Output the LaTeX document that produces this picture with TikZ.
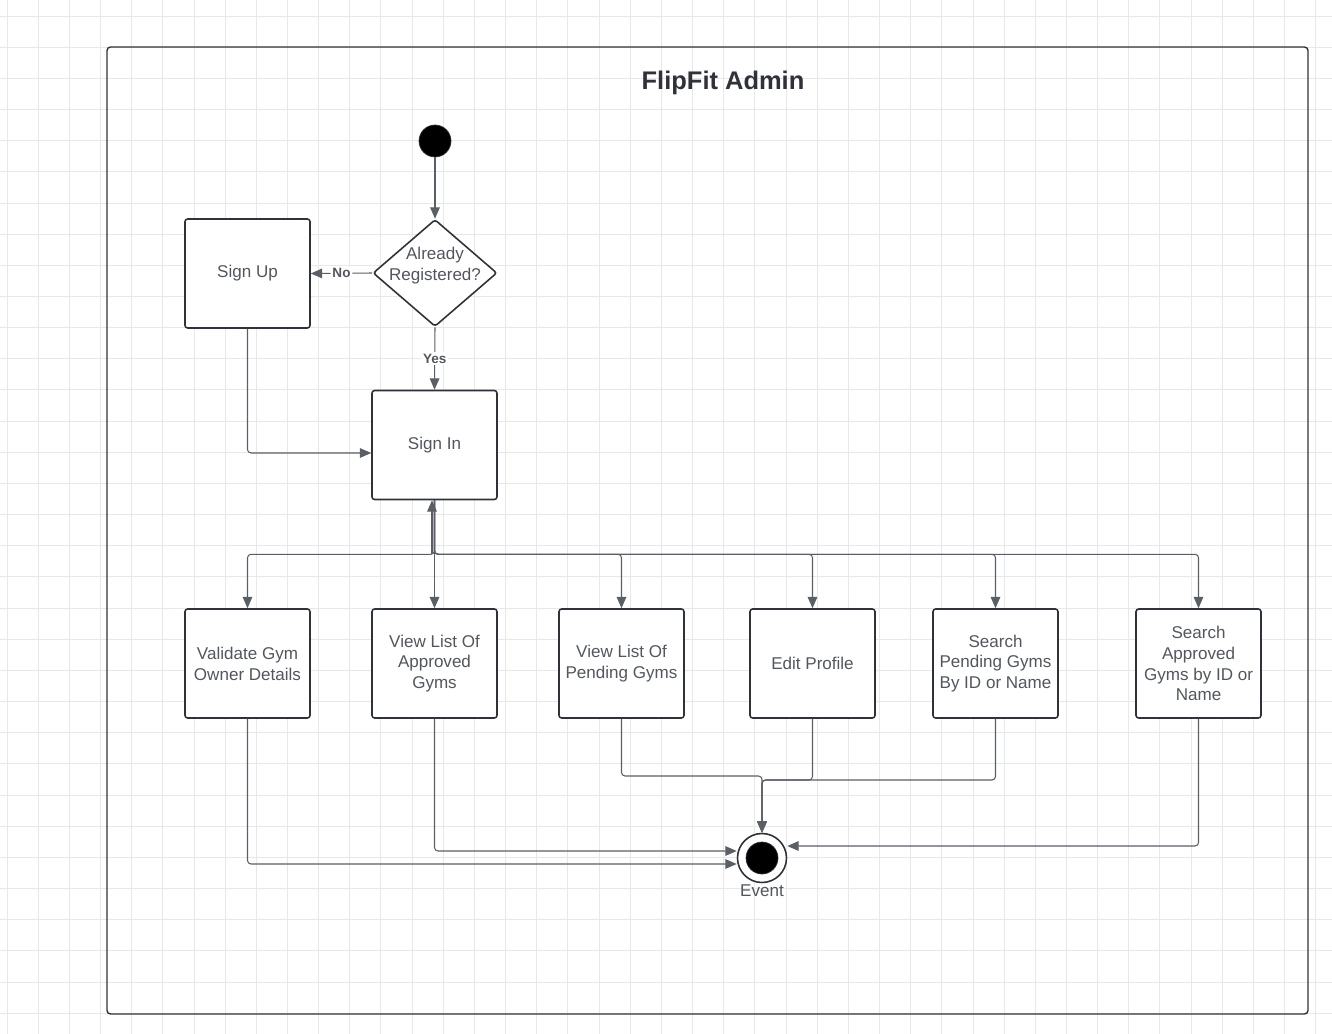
\documentclass[tikz,border=0pt]{standalone}
\usepackage{fontspec}
\setmainfont{Liberation Sans}
\usetikzlibrary{arrows.meta}
\usetikzlibrary{shapes.geometric}
\definecolor{ink}{HTML}{2F3238}
\definecolor{wire}{HTML}{5A5E65}
\definecolor{txt}{HTML}{52575E}
\definecolor{gridc}{HTML}{E8E8E8}

\begin{document}
\begin{tikzpicture}[x=0.02cm, y=-0.02cm, >={Triangle[length=6.5pt,width=5.5pt]},
    box/.style = {draw=ink, fill=white, line width=0.9pt, rounded corners=1.5pt, minimum width=2.5cm, minimum height=2.18cm, align=center, text=txt, font=\fontsize{9.7}{11.9}\selectfont, inner sep=0pt},
    decision/.style = {draw=ink, fill=white, diamond, line width=0.9pt, minimum width=2.48cm, minimum height=2.14cm, inner sep=0pt, rounded corners=1.5pt},
    dot/.style = {circle, fill=black, draw=ink, inner sep=0pt, minimum size=0.64cm},
    flow/.style = {->, draw=wire, line width=0.6pt, rounded corners=2pt},
    lbl/.style = {fill=white, inner sep=1pt, text=txt, font=\fontsize{7.7}{9}\selectfont\bfseries}]
    \useasboundingbox (0,0) rectangle (1332,1034);
    % Grid
    \foreach \k in {0,...,42}
        \draw[gridc, line width=0.5pt] (7+31.16*\k,0) -- (7+31.16*\k,1034);
    \foreach \k in {0,...,32}
        \draw[gridc, line width=0.5pt] (0,16+31.16*\k) -- (1332,16+31.16*\k);
    \draw[ink, line width=0.8pt, rounded corners=2pt] (107,47) rectangle (1308,1014);

    % Nodes
    \node[text=ink, font=\fontsize{14.5}{16}\selectfont\bfseries] (title) at (723,83) {FlipFit Admin};

    \node[dot] (start) at (435,141) {};
    \node[decision] (reg) at (435,273) {};
    \node[align=center, text=txt, font=\fontsize{9.7}{11.9}\selectfont] (regtxt) at (435,266) {Already\\Registered?};

    \node[box] (su) at (247.5,273.5) {Sign Up};
    \node[box] (si) at (434.5,445) {Sign In};

    \node[box] (vg) at (247.5,663.5) {Validate Gym\\Owner Details};
    \node[box] (va) at (434.5,663.5) {View List Of\\Approved\\Gyms};
    \node[box] (vp) at (621.5,663.5) {View List Of\\Pending Gyms};
    \node[box] (ep) at (812.5,663.5) {Edit Profile};
    \node[box] (sp) at (995.5,663.5) {Search\\Pending Gyms\\By ID or Name};
    \node[box] (sa) at (1198.5,663.5) {Search\\Approved\\Gyms by ID or\\Name};

    \node[circle, draw=ink, fill=white, line width=0.9pt, minimum size=0.98cm, inner sep=0pt] (fin) at (762,858) {};
    \node[dot] (findot) at (fin) {};
    \node[text=txt, font=\fontsize{9.7}{11.9}\selectfont] (ev) at (762,891) {Event};

    \coordinate (bus) at (432,554);
    \coordinate (join) at (762,780);

    % Edges
    \draw[flow] (start) -- (reg);
    \draw[flow] (reg.west) -- node[lbl] {No} (su.east);
    \draw[flow] (reg.south) -- node[lbl] {Yes} (si.north);
    \draw[flow] (su.south) |- ([yshift=-0.16cm]si.west);

    \foreach \b in {vg,va,vp,ep,sp,sa}
        \draw[flow] (si.south) -- ++(0,54) -| (\b.north);
    \draw[flow] (bus) -- (bus |- si.south);

    \draw[flow] (vg.south) |- ([yshift=-0.12cm]fin.west);
    \draw[flow] (va.south) |- ([yshift=0.14cm]fin.west);
    \draw[flow] (vp.south) |- ([yshift=0.08cm]join) -- (fin.north);
    \draw[flow] (ep.south) |- (join) -- (fin.north);
    \draw[flow] (sp.south) |- (join) -- (fin.north);
    \draw[flow] (sa.south) |- ([yshift=0.24cm]fin.east);

\end{tikzpicture}
\end{document}
